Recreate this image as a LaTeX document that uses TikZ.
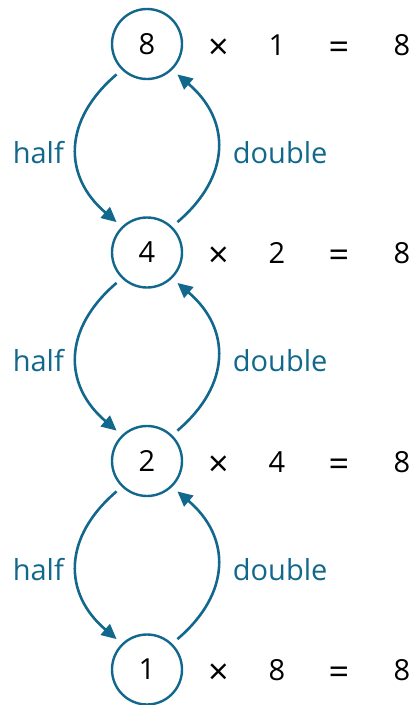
\documentclass[tikz,border=0pt]{standalone}
\usepackage{fontspec}
\setmainfont{Open Sans}
\usetikzlibrary{arrows.meta}
\definecolor{teal}{RGB}{18,104,140}
\begin{document}
\begin{tikzpicture}[x=1pt,y=-1pt,
  numcirc/.style={circle,draw=teal,line width=2.4pt,minimum size=70pt,inner sep=0pt,outer sep=8pt,font=\fontsize{29}{34}\selectfont},
  lbl/.style={text=teal,font=\fontsize{29}{34}\selectfont,inner sep=0pt,anchor=base},
  eqtxt/.style={text=black,font=\fontsize{29}{34}\selectfont,inner sep=0pt,anchor=base},
  optxt/.style={text=black,font=\fontsize{36}{40}\selectfont,inner sep=0pt,anchor=base},
  arc/.style={draw=teal,line width=2.6pt,-{Triangle[length=15pt,width=14pt]}}]
\useasboundingbox (0,0) rectangle (416,705);
\foreach \n/\m/\y [count=\i] in {8/1/44,4/2/252.5,2/4/461,1/8/669.5}{
  \node[numcirc] (c\i) at (147,\y) {\n};
  \node[optxt] (x\i) at (218.5,\y+15) {×};
  \node[eqtxt] (m\i) at (277,\y+11) {\m};
  \node[optxt] (q\i) at (338.8,\y+15) {=};
  \node[eqtxt] (r\i) at (402,\y+11) {8};
}
\foreach \i/\j in {1/2,2/3,3/4}{
  \path (c\i.center) -- (c\j.center) coordinate[pos=0.5] (mid\i);
  \node[lbl] (h\i) at ([xshift=-108.7pt,yshift=-15pt]mid\i) {half};
  \node[lbl,anchor=base west] (d\i) at ([xshift=85.7pt,yshift=-15pt]mid\i) {double};
  \draw[arc] (c\i.225) .. controls +(-53.5,45.5) and +(-54,-46) .. (c\j.135);
  \draw[arc] (c\j.45) .. controls +(53.5,-45.5) and +(54,46) .. (c\i.315);
}
\end{tikzpicture}
\end{document}
